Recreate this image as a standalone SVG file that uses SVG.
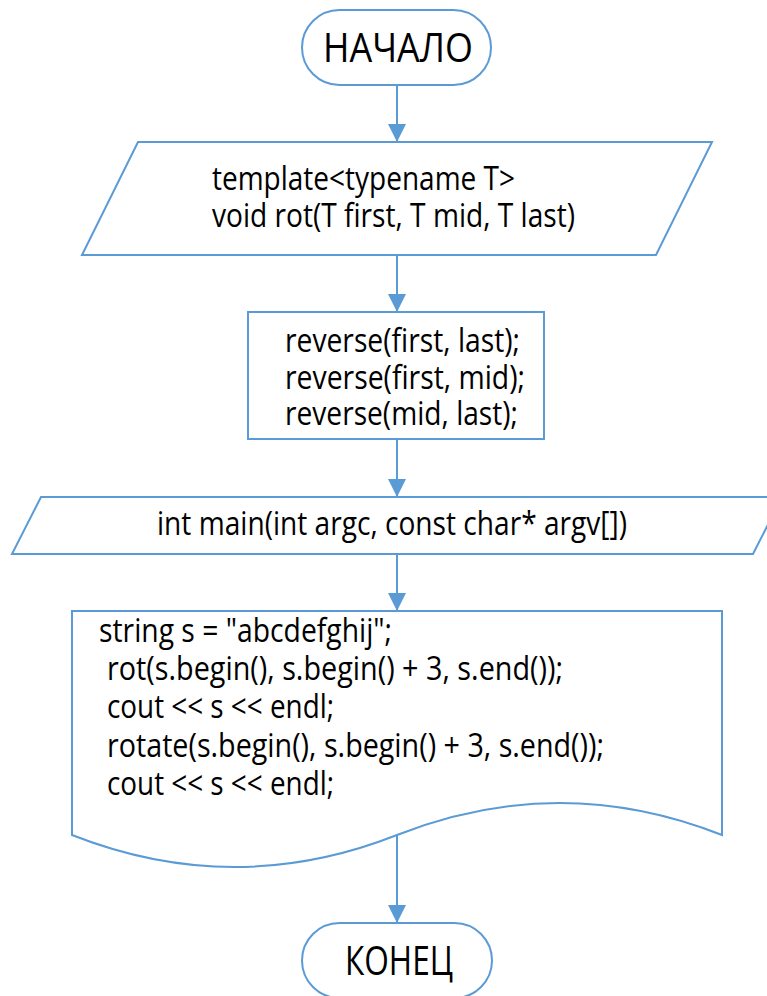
<svg xmlns="http://www.w3.org/2000/svg" width="767" height="996" viewBox="0 0 767 996">
  <defs>
    <style>
      .shape { fill: #ffffff; stroke: #5B9BD5; stroke-width: 2; }
      .link { fill: none; stroke: #5B9BD5; stroke-width: 2; }
      text { font-family: "Open Sans", Lato, "Liberation Sans", sans-serif; fill: #000000; font-variant-ligatures: none; }
      .code { font-size: 32px; }
      .term { font-size: 40px; }
    </style>
    <marker id="arrow" markerUnits="userSpaceOnUse" markerWidth="18" markerHeight="18" refX="18" refY="9" orient="auto">
      <path d="M0,0 L18,9 L0,18 Z" fill="#5B9BD5"/>
    </marker>
  </defs>

  <rect x="0" y="0" width="767" height="996" fill="#ffffff"/>

  <!-- start terminator -->
  <g id="start">
    <rect class="shape" x="302" y="10" width="189" height="75" rx="37.5" ry="37.5"/>
    <text class="term" x="323" y="62" textLength="150" lengthAdjust="spacingAndGlyphs">НАЧАЛО</text>
  </g>

  <!-- template function header (input/output) -->
  <g id="rot-header">
    <polygon class="shape" points="138,142 712,142 656,255 82,255"/>
    <text class="code" x="212" y="190" textLength="303" lengthAdjust="spacingAndGlyphs">template&lt;typename T&gt;</text>
    <text class="code" x="212" y="227" textLength="363" lengthAdjust="spacingAndGlyphs">void rot(T first, T mid, T last)</text>
  </g>

  <!-- body of rot -->
  <g id="rot-body">
    <rect class="shape" x="248" y="312" width="296" height="127"/>
    <text class="code" x="285" y="352" textLength="235" lengthAdjust="spacingAndGlyphs">reverse(first, last);</text>
    <text class="code" x="285" y="389" textLength="240" lengthAdjust="spacingAndGlyphs">reverse(first, mid);</text>
    <text class="code" x="285" y="425" textLength="233" lengthAdjust="spacingAndGlyphs">reverse(mid, last);</text>
  </g>

  <!-- main header -->
  <g id="main-header">
    <polygon class="shape" points="41,497 782,497 753,554 12,554"/>
    <text class="code" x="157" y="535" textLength="470" lengthAdjust="spacingAndGlyphs">int main(int argc, const char* argv[])</text>
  </g>

  <!-- main body (document shape) -->
  <g id="main-body">
    <path class="shape" d="M72,611 L722,611 L722,835 Q559.5,771 397,835 Q234.5,899 72,835 Z"/>
    <text class="code" x="99" y="642" textLength="293" lengthAdjust="spacingAndGlyphs">string s = "abcdefghij";</text>
    <text class="code" x="107" y="680" textLength="456" lengthAdjust="spacingAndGlyphs">rot(s.begin(), s.begin() + 3, s.end());</text>
    <text class="code" x="107" y="718" textLength="227" lengthAdjust="spacingAndGlyphs">cout &lt;&lt; s &lt;&lt; endl;</text>
    <text class="code" x="107" y="757" textLength="497" lengthAdjust="spacingAndGlyphs">rotate(s.begin(), s.begin() + 3, s.end());</text>
    <text class="code" x="107" y="795" textLength="227" lengthAdjust="spacingAndGlyphs">cout &lt;&lt; s &lt;&lt; endl;</text>
  </g>

  <!-- end terminator -->
  <g id="end">
    <rect class="shape" x="302" y="923" width="190" height="75" rx="37.5" ry="37.5"/>
    <text class="term" x="345" y="975" textLength="108" lengthAdjust="spacingAndGlyphs">КОНЕЦ</text>
  </g>

  <!-- connectors -->
  <g id="connectors">
    <line class="link" x1="397" y1="85" x2="397" y2="142" marker-end="url(#arrow)"/>
    <line class="link" x1="397" y1="255" x2="397" y2="312" marker-end="url(#arrow)"/>
    <line class="link" x1="397" y1="439" x2="397" y2="497" marker-end="url(#arrow)"/>
    <line class="link" x1="397" y1="554" x2="397" y2="611" marker-end="url(#arrow)"/>
    <line class="link" x1="397" y1="835" x2="397" y2="923" marker-end="url(#arrow)"/>
  </g>
</svg>
